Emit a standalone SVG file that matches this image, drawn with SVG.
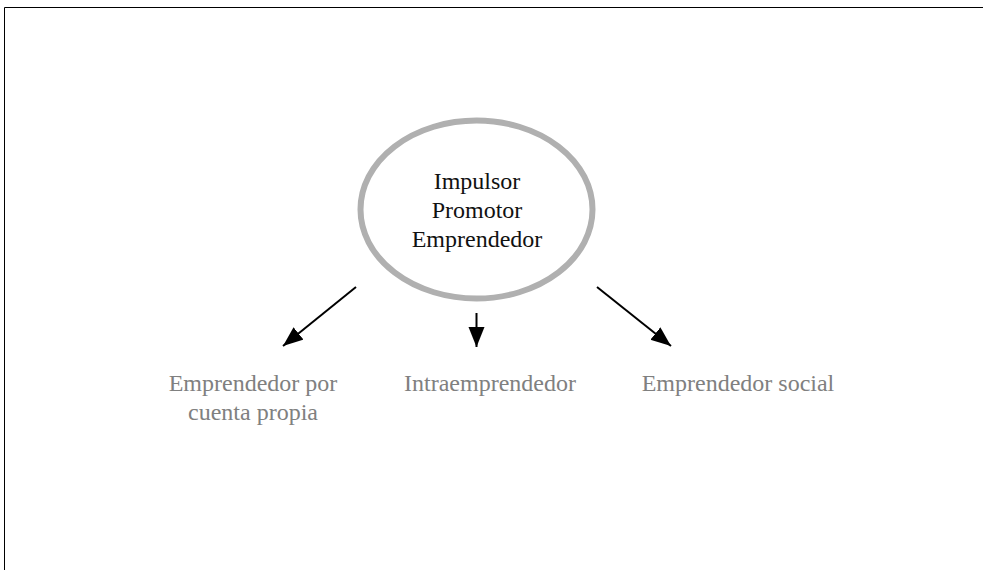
<svg xmlns="http://www.w3.org/2000/svg" width="983" height="570" viewBox="0 0 983 570">
<style>
.frame{stroke:#000;stroke-width:1;fill:none}
.center{font-family:"Liberation Serif","Times New Roman",serif;font-size:24px;fill:#111;text-anchor:middle}
.label{font-family:"Liberation Serif","Times New Roman",serif;font-size:24px;fill:#808080;text-anchor:middle}
.conn{stroke:#000;stroke-width:2;fill:none;marker-end:url(#ah)}
</style>
<defs>
<marker id="ah" markerUnits="userSpaceOnUse" markerWidth="22" markerHeight="18" refX="20" refY="8" orient="auto">
<path d="M0,0 L20,8 L0,16 Z" fill="#000"/>
</marker>
</defs>
<rect width="983" height="570" fill="#fff"/>
<path class="frame" d="M4.5,570 L4.5,7.5 L983,7.5"/>
<g id="center-node">
<ellipse cx="476.5" cy="209.5" rx="116" ry="89" fill="#fff" stroke="#b0b0b0" stroke-width="6"/>
<text class="center" x="477" y="189">Impulsor</text>
<text class="center" x="477" y="218">Promotor</text>
<text class="center" x="477" y="247">Emprendedor</text>
</g>
<g id="connectors">
<line class="conn" x1="356" y1="287" x2="283" y2="346"/>
<line class="conn" x1="476.5" y1="313" x2="476.5" y2="347"/>
<line class="conn" x1="597" y1="287" x2="671" y2="346"/>
</g>
<g id="node-cuenta-propia">
<text class="label" x="253" y="391">Emprendedor por</text>
<text class="label" x="253" y="420">cuenta propia</text>
</g>
<g id="node-intra">
<text class="label" x="490" y="391">Intraemprendedor</text>
</g>
<g id="node-social">
<text class="label" x="738" y="391">Emprendedor social</text>
</g>
</svg>
